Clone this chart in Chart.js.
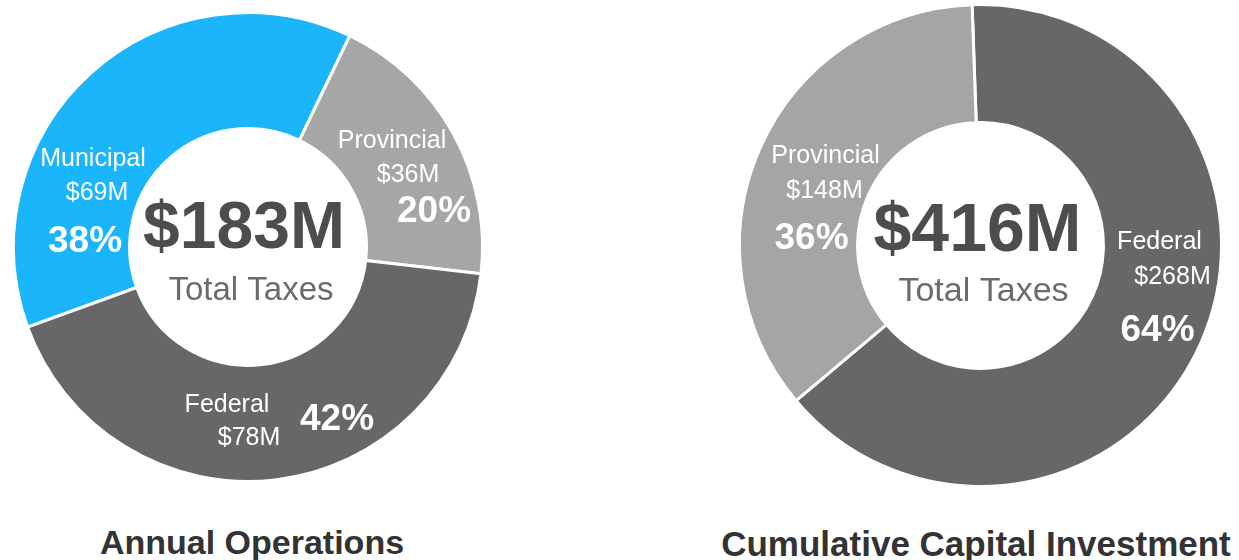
<!DOCTYPE html>
<html>
<head>
<meta charset="utf-8">
<title>Total Taxes</title>
<script src="https://cdn.jsdelivr.net/npm/chart.js@4.4.0/dist/chart.umd.min.js"></script>
<style>
  html, body { margin: 0; padding: 0; background: #fff; }
  body { width: 1239px; height: 560px; position: relative; overflow: hidden; font-family: "Liberation Sans", Arial, sans-serif; }
  canvas { position: absolute; }
  #opsChart { left: 12px; top: 11px; }
  #capChart { left: 738px; top: 3px; }
  .title { position: absolute; width: 600px; text-align: center; white-space: nowrap;
           font-weight: bold; line-height: 34px; color: #333; }
</style>
</head>
<body>
<canvas id="opsChart" width="472" height="472"></canvas>
<canvas id="capChart" width="485" height="485"></canvas>
<div class="title" style="left:-48px; top:525px; font-size:34px;">Annual Operations</div>
<div class="title" style="left:676px; top:527px; font-size:35px;">Cumulative Capital Investment</div>

<script>
// Annual Operations
const opsLabels = ['Municipal', 'Provincial', 'Federal'];
const opsValues = [69, 36, 78];
const opsPercents = ['38%', '20%', '42%'];
const opsTotal = '$183M';

// Cumulative Capital Investment
const capLabels = ['Federal', 'Provincial'];
const capValues = [268, 148];
const capPercents = ['64%', '36%'];
const capTotal = '$416M';

const FONT = '"Liberation Sans", Arial, sans-serif';

// text placement, offsets from the doughnut centre (baseline, centred)
const opsLayout = [
    { name: [-155, -81], amount: [-151, -47], pct: [-163, 5] },   // Municipal
    { name: [144, -99], amount: [160, -65], pct: [186, -25] },    // Provincial
    { name: [-21, 165], amount: [1, 198], pct: [89, 183] }        // Federal
];
const capLayout = [
    { name: [179, 3], amount: [192, 38], pct: [177, 95] },        // Federal
    { name: [-155, -83], amount: [-156, -48], pct: [-169, 3] }    // Provincial
];

const segmentText = {
    id: 'segmentText',
    afterDraw(chart, args, opts) {
        const ctx = chart.ctx;
        const arc = chart.getDatasetMeta(0).data[0];
        const cx = arc.x, cy = arc.y;
        const labels = chart.data.labels;
        const values = chart.data.datasets[0].data;

        ctx.save();
        ctx.textAlign = 'center';
        ctx.textBaseline = 'alphabetic';
        ctx.fillStyle = '#fff';

        labels.forEach((label, i) => {
            const pos = opts.layout[i];
            ctx.font = '25px ' + FONT;
            ctx.fillText(label, cx + pos.name[0], cy + pos.name[1]);
            ctx.fillText('$' + values[i] + 'M', cx + pos.amount[0], cy + pos.amount[1]);
            ctx.font = 'bold 37px ' + FONT;
            ctx.fillText(opts.percents[i], cx + pos.pct[0], cy + pos.pct[1]);
        });

        // centre
        ctx.fillStyle = '#4d4d4d';
        ctx.font = 'bold ' + opts.totalSize + 'px ' + FONT;
        ctx.fillText(opts.total, cx + opts.totalPos[0], cy + opts.totalPos[1]);
        ctx.fillStyle = '#6b6b6b';
        ctx.font = opts.subSize + 'px ' + FONT;
        ctx.fillText('Total Taxes', cx + opts.subPos[0], cy + opts.subPos[1]);
        ctx.restore();
    }
};

function makeDoughnut(id, labels, values, colors, rotation, cutout, textOpts) {
    return new Chart(document.getElementById(id), {
        type: 'doughnut',
        data: {
            labels: labels,
            datasets: [{
                data: values,
                backgroundColor: colors,
                borderColor: '#fff',
                borderWidth: 3
            }]
        },
        options: {
            responsive: false,
            animation: false,
            rotation: rotation,
            cutout: cutout,
            layout: { padding: 0 },
            plugins: {
                legend: { display: false },
                tooltip: { enabled: false },
                segmentText: textOpts
            }
        },
        plugins: [segmentText]
    });
}

makeDoughnut('opsChart', opsLabels, opsValues, ['#1ab5fb', '#a6a6a6', '#676767'], 250, '50.5%', {
    layout: opsLayout,
    percents: opsPercents,
    total: opsTotal,
    totalSize: 66,
    totalPos: [-4, 1],
    subSize: 33,
    subPos: [3, 53]
});

makeDoughnut('capChart', capLabels, capValues, ['#676767', '#a5a5a5'], -2, '51%', {
    layout: capLayout,
    percents: capPercents,
    total: capTotal,
    totalSize: 68,
    totalPos: [-3, 5],
    subSize: 34,
    subPos: [3, 55]
});
</script>
</body>
</html>
